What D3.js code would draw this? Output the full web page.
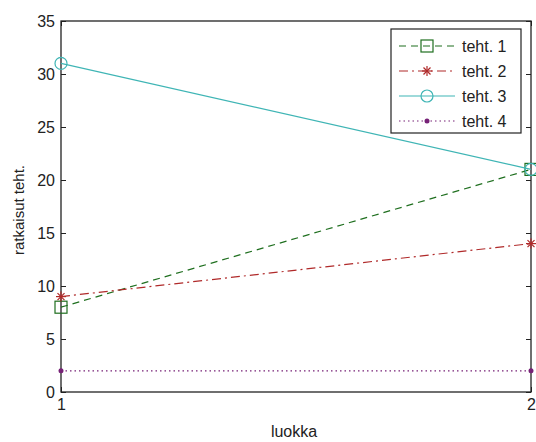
<!doctype html>
<html lang="en">
<head>
  <meta charset="utf-8">
  <title>ratkaisut teht.</title>
  <style>
    body { margin: 0; background: #fff; }
    svg { display: block; font-family: "Liberation Sans", Arial, sans-serif; }
  </style>
</head>
<body>
  <svg width="536" height="442"></svg>
  <script src="https://cdn.jsdelivr.net/npm/d3@7"></script>
  <script>
    // data
    var luokat = [1, 2];
    var teht1 = [8, 21];
    var teht2 = [9, 14];
    var teht3 = [31, 21];
    var teht4 = [2, 2];
    var names = ["teht. 1", "teht. 2", "teht. 3", "teht. 4"];
    var yTicks = [0, 5, 10, 15, 20, 25, 30, 35];

    var series = [
      { name: names[0], values: teht1, color: "#1f6f1f", dash: "7,5", marker: "square" },
      { name: names[1], values: teht2, color: "#b02a2a", dash: "9,4,2,4", marker: "star" },
      { name: names[2], values: teht3, color: "#3fb5b5", dash: null, marker: "circle" },
      { name: names[3], values: teht4, color: "#772277", dash: "1.5,3", marker: "dot" }
    ];

    // plot box (note: "top" is reserved on window, so use pTop etc.)
    var pLeft = 61, pRight = 531, pTop = 21, pBottom = 392;
    var svg = d3.select("svg");

    var x = d3.scaleLinear().domain([1, 2]).range([pLeft, pRight]);
    var y = d3.scaleLinear().domain([0, 35]).range([pBottom, pTop]);

    // axes: ticks point inward like the original
    svg.append("g")
      .attr("transform", "translate(0," + pBottom + ")")
      .call(d3.axisBottom(x).tickValues(luokat).tickFormat(d3.format("d")).tickSizeInner(-5).tickSizeOuter(0).tickPadding(7))
      .call(g => g.select(".domain").remove());
    svg.append("g")
      .attr("transform", "translate(" + pLeft + ",0)")
      .call(d3.axisLeft(y).tickValues(yTicks).tickSizeInner(-5).tickSizeOuter(0).tickPadding(6))
      .call(g => g.select(".domain").remove());
    svg.append("g")
      .attr("transform", "translate(" + pRight + ",0)")
      .call(d3.axisRight(y).tickValues(yTicks).tickSizeInner(-5).tickSizeOuter(0).tickFormat(""))
      .call(g => g.select(".domain").remove());
    svg.append("g")
      .attr("transform", "translate(0," + pTop + ")")
      .call(d3.axisTop(x).tickValues(luokat).tickSizeInner(-5).tickSizeOuter(0).tickFormat(""))
      .call(g => g.select(".domain").remove());

    svg.selectAll(".tick text").attr("font-size", 16).attr("fill", "#222")
      .attr("font-family", "Liberation Sans, Arial, sans-serif");
    svg.selectAll(".tick line").attr("stroke", "#222");

    svg.append("rect")
      .attr("x", pLeft).attr("y", pTop)
      .attr("width", pRight - pLeft).attr("height", pBottom - pTop)
      .attr("fill", "none").attr("stroke", "#222").attr("stroke-width", 1.3);

    function drawMarker(g, type, color, cx, cy) {
      if (type === "square") {
        g.append("rect").attr("x", cx - 6).attr("y", cy - 6).attr("width", 12).attr("height", 12)
          .attr("fill", "none").attr("stroke", color).attr("stroke-width", 1.2);
      } else if (type === "circle") {
        g.append("circle").attr("cx", cx).attr("cy", cy).attr("r", 6)
          .attr("fill", "none").attr("stroke", color).attr("stroke-width", 1.2);
      } else if (type === "star") {
        var r = 5;
        [[0, r], [r, 0], [r * 0.7, r * 0.7], [r * 0.7, -r * 0.7]].forEach(function (d) {
          g.append("line").attr("x1", cx - d[0]).attr("y1", cy - d[1]).attr("x2", cx + d[0]).attr("y2", cy + d[1])
            .attr("stroke", color).attr("stroke-width", 1.2);
        });
      } else {
        g.append("circle").attr("cx", cx).attr("cy", cy).attr("r", 2.5).attr("fill", color);
      }
    }

    var line = d3.line().x((v, i) => x(luokat[i])).y(v => y(v));
    var plot = svg.append("g");
    series.forEach(function (s) {
      plot.append("path").datum(s.values)
        .attr("d", line).attr("fill", "none")
        .attr("stroke", s.color).attr("stroke-width", 1.2)
        .attr("stroke-dasharray", s.dash);
      s.values.forEach(function (v, i) { drawMarker(plot, s.marker, s.color, x(luokat[i]), y(v)); });
    });

    // legend
    var lg = svg.append("g").attr("transform", "translate(391,29)");
    lg.append("rect").attr("width", 130).attr("height", 104)
      .attr("fill", "#fff").attr("stroke", "#222").attr("stroke-width", 1.2);
    series.forEach(function (s, i) {
      var ly = 17 + i * 25;
      lg.append("line").attr("x1", 8).attr("x2", 64).attr("y1", ly).attr("y2", ly)
        .attr("stroke", s.color).attr("stroke-width", 1.2).attr("stroke-dasharray", s.dash);
      drawMarker(lg, s.marker, s.color, 36, ly);
      lg.append("text").attr("x", 71).attr("y", ly + 6).attr("font-size", 16).attr("fill", "#222")
        .text(s.name);
    });

    // axis titles
    svg.append("text").attr("x", 294).attr("y", 437).attr("text-anchor", "middle")
      .attr("font-size", 16).attr("fill", "#222").text("luokka");
    svg.append("text").attr("transform", "translate(24,210) rotate(-90)").attr("text-anchor", "middle")
      .attr("font-size", 15).attr("fill", "#222").text("ratkaisut teht.");
  </script>
</body>
</html>
